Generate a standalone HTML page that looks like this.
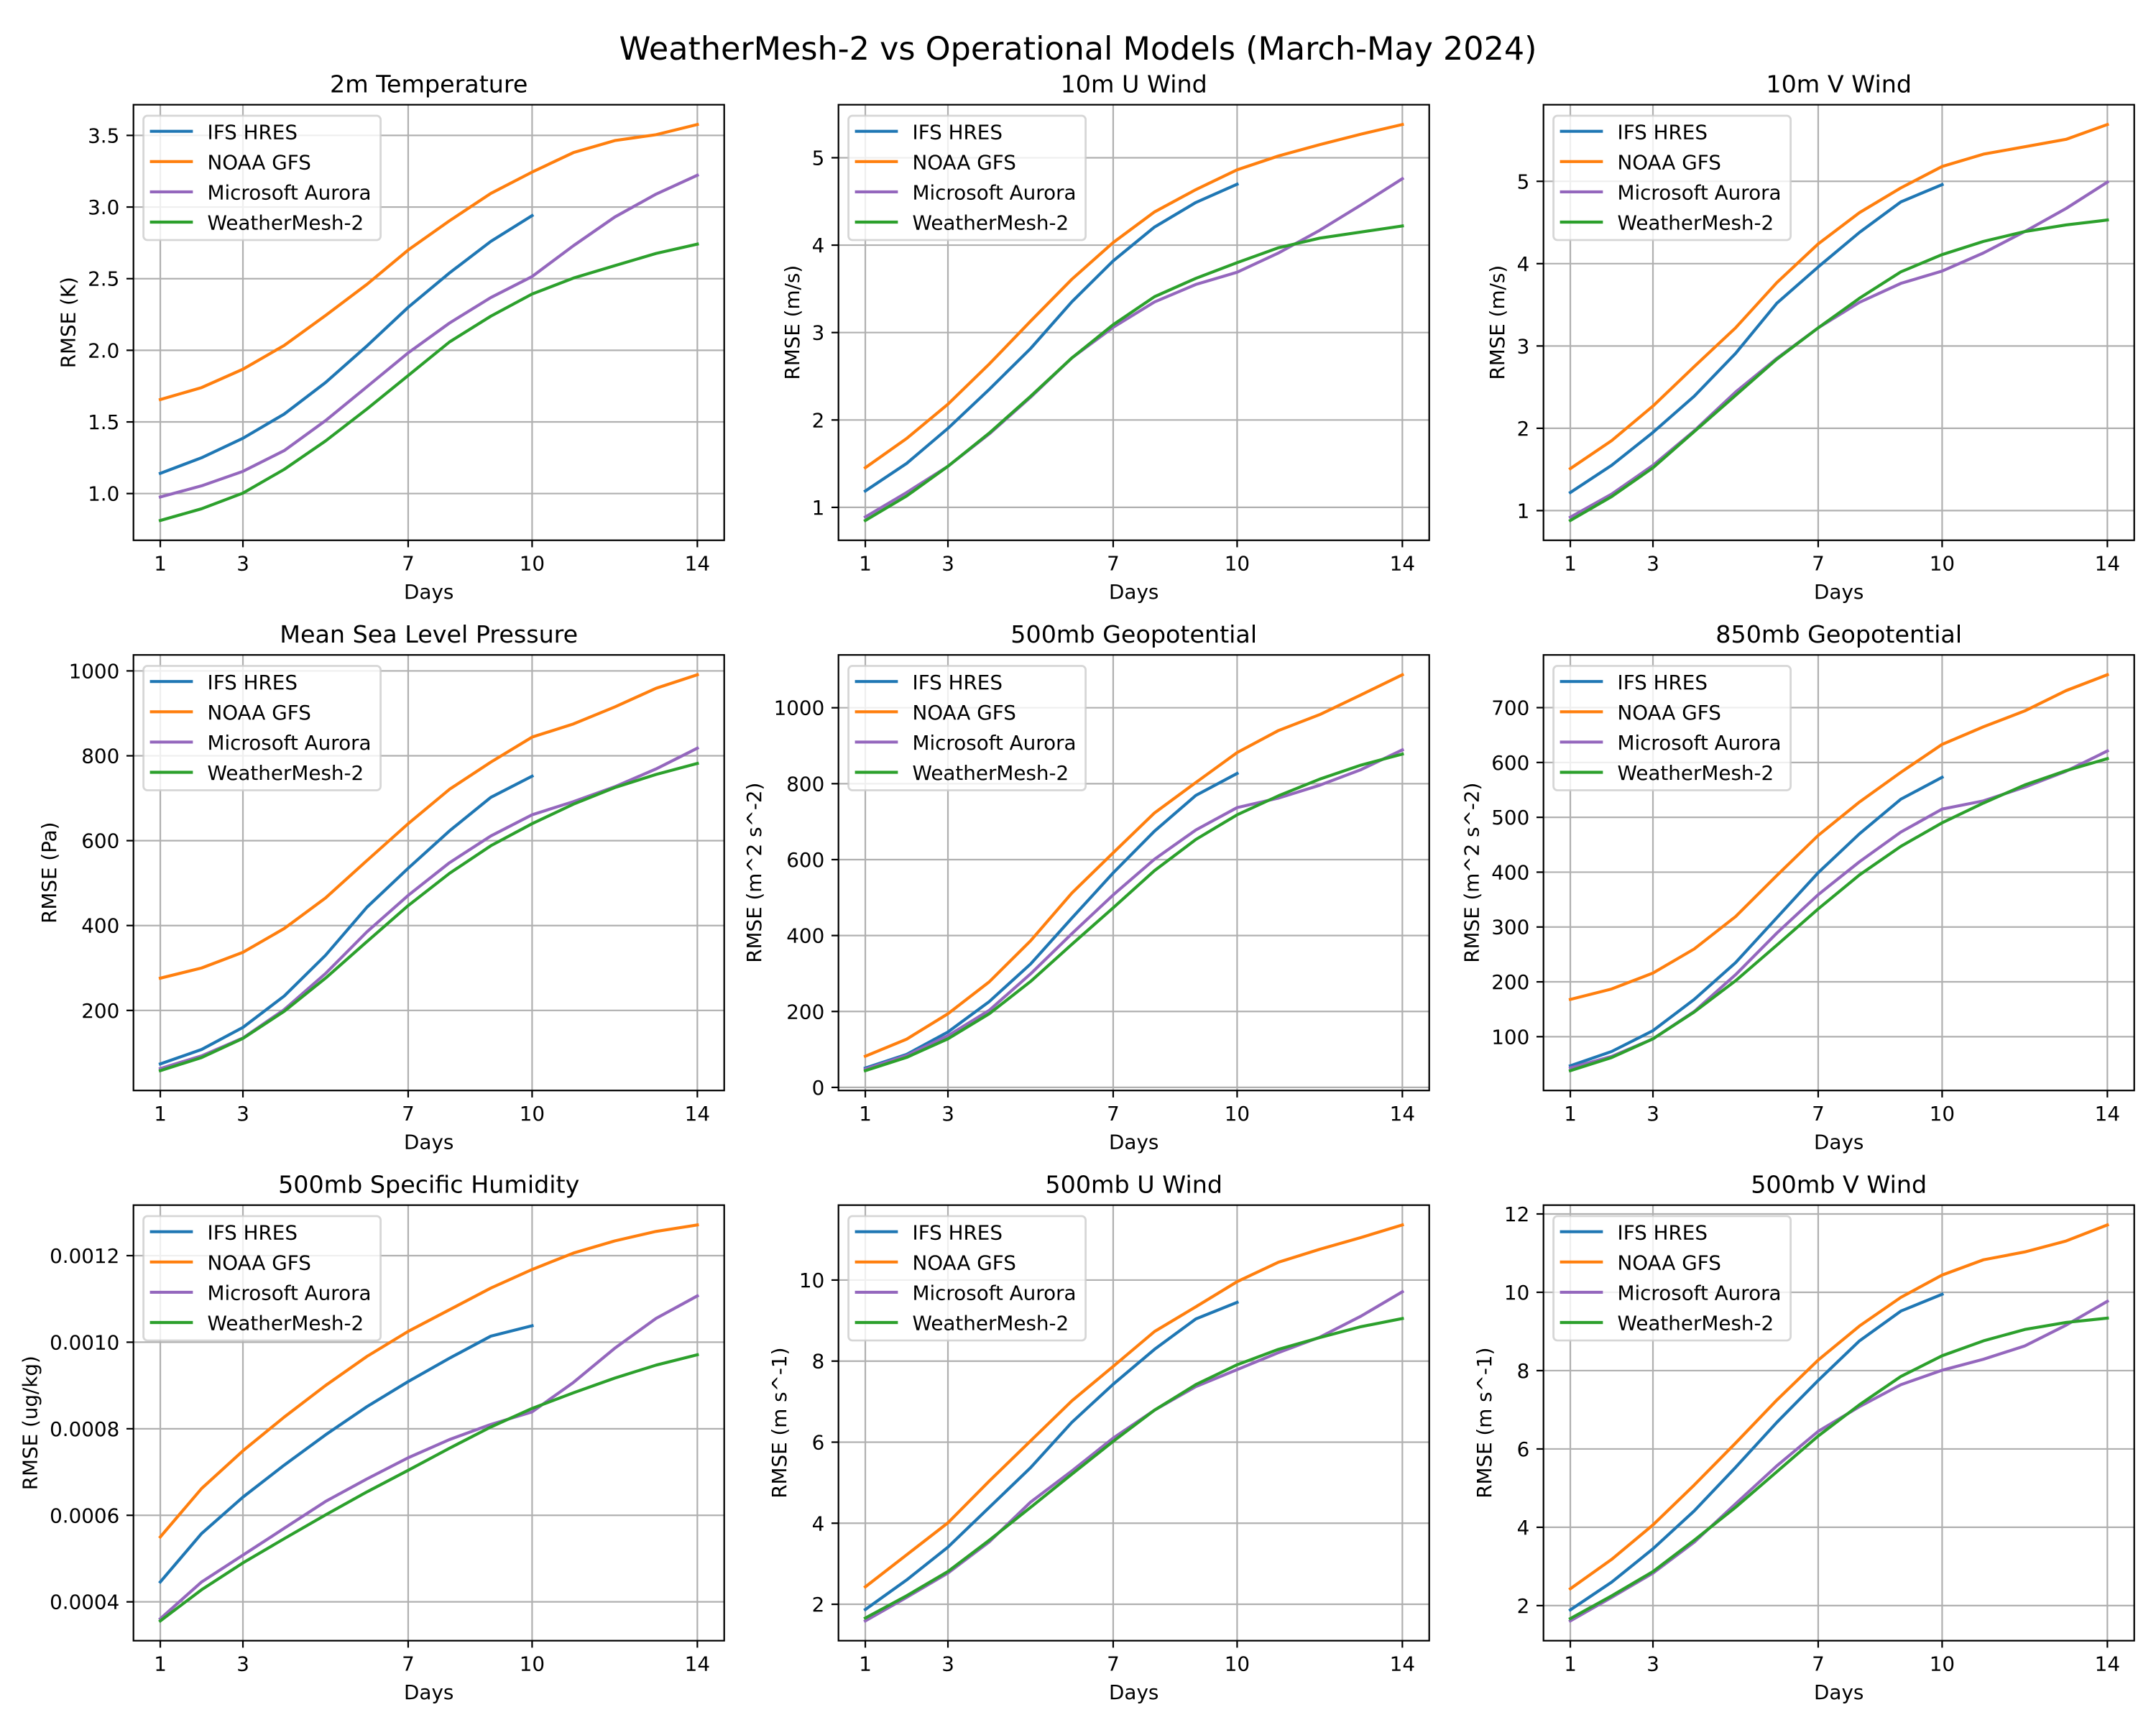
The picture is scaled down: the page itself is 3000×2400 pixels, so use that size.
<!DOCTYPE html>
<html><head><meta charset="utf-8">
<style>html,body{margin:0;padding:0;background:#fff}svg{display:block}</style>
</head><body>
<svg id="s" xmlns="http://www.w3.org/2000/svg" width="3000" height="2400" viewBox="0 0 3000 2400" font-family="'DejaVu Sans','Liberation Sans',sans-serif"></svg>
<script>
const P=[
{t:"2m Temperature",yl:"RMSE (K)",ticks:[1,1.5,2,2.5,3,3.5],lab:["1.0","1.5","2.0","2.5","3.0","3.5"],s:[
[1.141,1.25,1.386,1.555,1.775,2.03,2.30,2.54,2.76,2.94],
[1.656,1.74,1.868,2.034,2.243,2.46,2.70,2.904,3.095,3.244,3.38,3.464,3.505,3.576],
[0.976,1.054,1.155,1.30,1.509,1.745,1.982,2.19,2.368,2.515,2.73,2.93,3.09,3.222],
[0.812,0.894,1.003,1.169,1.367,1.59,1.824,2.058,2.238,2.393,2.504,2.591,2.676,2.741]]},
{t:"10m U Wind",yl:"RMSE (m/s)",ticks:[1,2,3,4,5],lab:["1","2","3","4","5"],s:[
[1.187,1.503,1.904,2.35,2.817,3.352,3.82,4.207,4.488,4.697],
[1.454,1.788,2.18,2.64,3.13,3.61,4.03,4.38,4.635,4.862,5.02,5.15,5.27,5.38],
[0.89,1.17,1.47,1.84,2.26,2.71,3.06,3.35,3.55,3.69,3.91,4.17,4.46,4.76],
[0.85,1.13,1.47,1.85,2.27,2.71,3.09,3.41,3.62,3.80,3.97,4.08,4.15,4.22]]},
{t:"10m V Wind",yl:"RMSE (m/s)",ticks:[1,2,3,4,5],lab:["1","2","3","4","5"],s:[
[1.22,1.55,1.95,2.39,2.91,3.52,3.96,4.38,4.75,4.96],
[1.51,1.85,2.27,2.75,3.22,3.77,4.24,4.62,4.92,5.18,5.33,5.42,5.51,5.69],
[0.92,1.20,1.55,1.97,2.44,2.85,3.22,3.53,3.76,3.91,4.13,4.39,4.67,4.99],
[0.88,1.17,1.52,1.96,2.40,2.84,3.22,3.58,3.90,4.11,4.27,4.39,4.47,4.53]]},
{t:"Mean Sea Level Pressure",yl:"RMSE (Pa)",ticks:[200,400,600,800,1000],lab:["200","400","600","800","1000"],s:[
[74,108,160,234,330,443,535,623,702,752],
[276,300,337,393,465,553,640,721,785,844,875,915,959,991],
[63,93,135,202,287,385,471,548,611,661,692,727,769,818],
[58,89,134,198,276,362,447,523,588,640,686,725,756,782]]},
{t:"500mb Geopotential",yl:"RMSE (m^2 s^-2)",ticks:[0,200,400,600,800,1000],lab:["0","200","400","600","800","1000"],s:[
[51,87,146,226,325,446,565,675,769,827],
[82,127,194,278,386,512,618,723,803,882,940,982,1034,1087],
[48,84,136,203,299,405,507,601,678,737,762,796,837,889],
[44,79,128,194,279,377,473,571,653,718,768,812,849,878]]},
{t:"850mb Geopotential",yl:"RMSE (m^2 s^-2)",ticks:[100,200,300,400,500,600,700],lab:["100","200","300","400","500","600","700"],s:[
[47,73,111,168,235,317,399,470,533,573],
[168,187,216,260,319,394,467,528,582,633,665,694,731,760],
[43,64,96,146,213,289,359,419,473,515,530,555,584,621],
[38,62,96,145,202,267,333,395,447,490,526,559,585,607]]},
{t:"500mb Specific Humidity",yl:"RMSE (ug/kg)",ticks:[4,6,8,10,12],lab:["0.0004","0.0006","0.0008","0.0010","0.0012"],s:[
[4.46,5.58,6.42,7.16,7.86,8.51,9.09,9.63,10.14,10.38],
[5.50,6.62,7.49,8.27,9.00,9.67,10.25,10.75,11.25,11.68,12.06,12.34,12.56,12.71],
[3.61,4.46,5.08,5.70,6.32,6.84,7.33,7.75,8.10,8.39,9.07,9.86,10.55,11.07],
[3.56,4.28,4.90,5.46,6.01,6.54,7.04,7.55,8.04,8.47,8.83,9.17,9.47,9.71]]},
{t:"500mb U Wind",yl:"RMSE (m s^-1)",ticks:[2,4,6,8,10],lab:["2","4","6","8","10"],s:[
[1.87,2.60,3.41,4.39,5.37,6.49,7.43,8.29,9.04,9.45],
[2.43,3.22,4.01,5.04,6.03,7.02,7.87,8.73,9.34,9.96,10.44,10.76,11.05,11.36],
[1.59,2.17,2.77,3.54,4.52,5.29,6.10,6.79,7.37,7.79,8.21,8.59,9.11,9.71],
[1.66,2.21,2.81,3.58,4.39,5.21,6.02,6.79,7.42,7.91,8.29,8.58,8.85,9.05]]},
{t:"500mb V Wind",yl:"RMSE (m s^-1)",ticks:[2,4,6,8,10,12],lab:["2","4","6","8","10","12"],s:[
[1.89,2.60,3.45,4.42,5.53,6.68,7.75,8.76,9.52,9.95],
[2.43,3.18,4.06,5.08,6.15,7.25,8.27,9.14,9.87,10.44,10.83,11.03,11.31,11.72],
[1.61,2.21,2.83,3.62,4.60,5.57,6.45,7.08,7.64,8.01,8.29,8.63,9.16,9.77],
[1.67,2.25,2.87,3.67,4.51,5.42,6.33,7.13,7.85,8.38,8.76,9.05,9.23,9.34]]}
];
const COL=["#1f77b4","#ff7f0e","#9467bd","#2ca02c"];
const NAMES=["IFS HRES","NOAA GFS","Microsoft Aurora","WeatherMesh-2"];
const LS=[185.7,1166.7,2147.7],TS=[145.7,911.2,1676.7],W=822,H=606;
const FS=27.78,TFS=33.33;
const XT=[1,3,7,10,14];
let o="";
o+=`<rect x="0" y="0" width="3000" height="2400" fill="#fff"/>`;
o+=`<text x="1500" y="83" font-size="44.44" text-anchor="middle" fill="#000">WeatherMesh-2 vs Operational Models (March-May 2024)</text>`;
function tw(s){let w=0;for(const c of s){w+= (c==="."?0.318:0.636);}return w*FS;}
P.forEach((p,i)=>{
  const L=LS[i%3],T=TS[Math.floor(i/3)],B=T+H,R=L+W;
  let mn=Infinity,mx=-Infinity;p.s.forEach(a=>a.forEach(v=>{mn=Math.min(mn,v);mx=Math.max(mx,v);}));
  const r=mx-mn,y0=mn-0.05*r,y1=mx+0.05*r;
  const X=d=>L+(d-0.35)/14.3*W;
  const Y=v=>B-(v-y0)/(y1-y0)*H;
  const cid="c"+i;
  o+=`<clipPath id="${cid}"><rect x="${L}" y="${T}" width="${W}" height="${H}"/></clipPath>`;
  // grid
  let g="";
  XT.forEach(d=>{const x=X(d).toFixed(2);g+=`<line x1="${x}" y1="${T}" x2="${x}" y2="${B}"/>`;});
  p.ticks.forEach(v=>{const y=Y(v).toFixed(2);g+=`<line x1="${L}" y1="${y}" x2="${R}" y2="${y}"/>`;});
  o+=`<g stroke="#b0b0b0" stroke-width="2.22" clip-path="url(#${cid})">${g}</g>`;
  // series
  let sl="";
  p.s.forEach((a,k)=>{
    const pts=a.map((v,j)=>X(j+1).toFixed(2)+","+Y(v).toFixed(2)).join(" ");
    sl+=`<polyline points="${pts}" fill="none" stroke="${COL[k]}" stroke-width="4.17" stroke-linejoin="round" stroke-linecap="square"/>`;
  });
  o+=`<g clip-path="url(#${cid})">${sl}</g>`;
  // spines
  o+=`<rect x="${L}" y="${T}" width="${W}" height="${H}" fill="none" stroke="#000" stroke-width="2.22"/>`;
  // ticks
  let tk="";
  XT.forEach(d=>{const x=X(d).toFixed(2);tk+=`<line x1="${x}" y1="${B}" x2="${x}" y2="${B+9.72}"/>`;});
  p.ticks.forEach(v=>{const y=Y(v).toFixed(2);tk+=`<line x1="${L-9.72}" y1="${y}" x2="${L}" y2="${y}"/>`;});
  o+=`<g stroke="#000" stroke-width="2.22">${tk}</g>`;
  // tick labels
  let tl="";
  XT.forEach(d=>{tl+=`<text x="${X(d).toFixed(2)}" y="${(B+41.6).toFixed(2)}" text-anchor="middle">${d}</text>`;});
  let mw=0;
  p.ticks.forEach((v,j)=>{mw=Math.max(mw,tw(p.lab[j]));tl+=`<text x="${(L-19.44).toFixed(2)}" y="${(Y(v)+10).toFixed(2)}" text-anchor="end">${p.lab[j]}</text>`;});
  o+=`<g font-size="${FS}" fill="#000">${tl}</g>`;
  // title
  o+=`<text x="${(L+W/2).toFixed(2)}" y="${(T-17.4).toFixed(2)}" font-size="${TFS}" text-anchor="middle" fill="#000">${p.t}</text>`;
  // xlabel
  o+=`<text x="${(L+W/2).toFixed(2)}" y="${(B+81.3).toFixed(2)}" font-size="${FS}" text-anchor="middle" fill="#000">Days</text>`;
  // ylabel
  const yx=L-19.44-mw-11.1-6.6;
  o+=`<text transform="translate(${yx.toFixed(2)},${(T+H/2).toFixed(2)}) rotate(-90)" font-size="${FS}" text-anchor="middle" fill="#000">${p.yl}</text>`;
  // legend
  const lx=L+13.9,ly=T+15.3;
  o+=`<rect x="${lx.toFixed(2)}" y="${ly.toFixed(2)}" width="330" height="173" rx="5.5" ry="5.5" fill="#fff" fill-opacity="0.8" stroke="#cccccc" stroke-opacity="0.8" stroke-width="2.78"/>`;
  [37.0,79.1,121.2,163.3].forEach((dy,k)=>{
    const yy=T+dy;
    o+=`<line x1="${(L+25).toFixed(2)}" y1="${yy.toFixed(2)}" x2="${(L+80.6).toFixed(2)}" y2="${yy.toFixed(2)}" stroke="${COL[k]}" stroke-width="4.17" stroke-linecap="square"/>`;
    o+=`<text x="${(L+102.8).toFixed(2)}" y="${(yy+10.6).toFixed(2)}" font-size="${FS}" fill="#000">${NAMES[k]}</text>`;
  });
});
document.getElementById("s").innerHTML=o;
</script>
</body></html>
